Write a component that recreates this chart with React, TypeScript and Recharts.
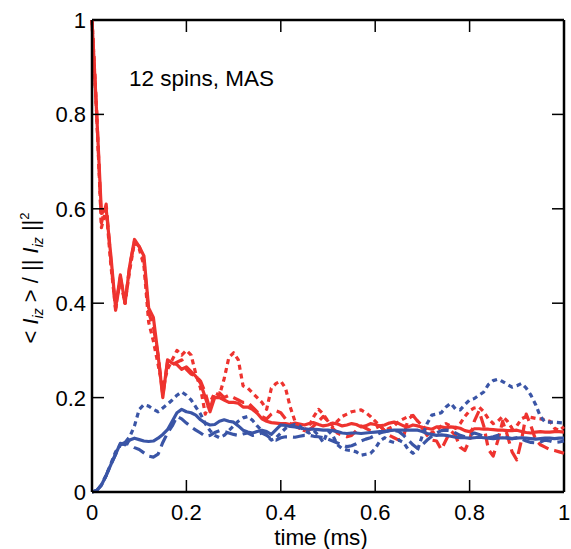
import { LineChart, Line, XAxis, YAxis, ReferenceLine } from "recharts"

// sampling grid: 0 .. 1 ms in 0.01 ms steps
const TIME = Array.from({ length: 101 }, (_, i) => i / 100)

const X_TICKS = [0, 0.2, 0.4, 0.6, 0.8, 1]
const Y_TICKS = [0, 0.2, 0.4, 0.6, 0.8, 1]

// red: solid / dashed / dotted
const RED_SOLID = [
  1.0, 0.8, 0.59, 0.6, 0.5, 0.39, 0.46, 0.4, 0.48, 0.535,
  0.52, 0.5, 0.39, 0.37, 0.29, 0.2, 0.28, 0.273, 0.27, 0.26,
  0.265, 0.255, 0.245, 0.23, 0.2, 0.17, 0.2, 0.2, 0.195, 0.19,
  0.19, 0.188, 0.18, 0.18, 0.175, 0.167, 0.155, 0.15, 0.147, 0.146,
  0.145, 0.145, 0.143, 0.146, 0.144, 0.142, 0.145, 0.147, 0.143, 0.14,
  0.142, 0.146, 0.144, 0.14, 0.142, 0.145, 0.143, 0.138, 0.14, 0.145,
  0.143, 0.14, 0.142, 0.146, 0.148, 0.145, 0.14, 0.138, 0.142, 0.14,
  0.137, 0.135, 0.133, 0.138, 0.138, 0.136, 0.138, 0.137, 0.135, 0.13,
  0.128, 0.134, 0.134, 0.133, 0.133, 0.132, 0.131, 0.131, 0.13, 0.13,
  0.131, 0.128, 0.126, 0.125, 0.127, 0.128, 0.127, 0.127, 0.128, 0.128,
  0.127,
]
const RED_DASHED = [
  1.0, 0.8, 0.57, 0.61, 0.49, 0.385, 0.455, 0.4, 0.48, 0.53,
  0.52, 0.49, 0.38, 0.35, 0.29, 0.205, 0.275, 0.27, 0.275, 0.28,
  0.26, 0.25, 0.245, 0.235, 0.21, 0.175, 0.21, 0.21, 0.2, 0.205,
  0.2, 0.195, 0.19, 0.19, 0.18, 0.17, 0.16, 0.155, 0.165, 0.172,
  0.168, 0.155, 0.145, 0.14, 0.135, 0.132, 0.131, 0.14, 0.15, 0.16,
  0.15, 0.135, 0.125, 0.12, 0.117, 0.12, 0.13, 0.14, 0.135, 0.13,
  0.135, 0.14, 0.13, 0.12, 0.115, 0.11, 0.117, 0.155, 0.162, 0.15,
  0.135, 0.12, 0.11, 0.108, 0.09, 0.11, 0.13, 0.12, 0.095, 0.088,
  0.11, 0.15, 0.172, 0.14, 0.09, 0.076, 0.11, 0.15, 0.12, 0.085,
  0.068, 0.11, 0.165, 0.14, 0.11, 0.1, 0.095, 0.09, 0.088, 0.085,
  0.082,
]
const RED_DOTTED = [
  1.0, 0.8, 0.56, 0.6, 0.48, 0.39, 0.45, 0.4, 0.47, 0.53,
  0.515, 0.48, 0.36, 0.32, 0.27, 0.22, 0.26, 0.28, 0.3, 0.29,
  0.3, 0.29, 0.25, 0.22, 0.165, 0.19, 0.21, 0.205, 0.24, 0.285,
  0.295, 0.28, 0.225, 0.22, 0.21, 0.2, 0.19, 0.175, 0.22, 0.23,
  0.235, 0.22, 0.18, 0.15, 0.135, 0.13, 0.14, 0.16, 0.175, 0.165,
  0.15, 0.14, 0.15, 0.16, 0.165, 0.17, 0.172, 0.174, 0.168, 0.16,
  0.15, 0.14, 0.13, 0.135, 0.14, 0.15, 0.155, 0.16, 0.162, 0.15,
  0.14, 0.13, 0.125, 0.13, 0.14, 0.145, 0.14, 0.135, 0.145, 0.16,
  0.172, 0.178, 0.18, 0.17, 0.155, 0.145, 0.15, 0.16, 0.15, 0.135,
  0.14, 0.155, 0.16, 0.158, 0.156, 0.155, 0.153, 0.15, 0.135, 0.13,
  0.138,
]

// blue: solid / dashed / dotted
const BLUE_SOLID = [
  0, 0.003, 0.015, 0.035, 0.058, 0.08, 0.103, 0.1, 0.11, 0.114,
  0.111, 0.108, 0.107, 0.108, 0.114, 0.122, 0.132, 0.15, 0.168, 0.175,
  0.17, 0.168, 0.163, 0.153, 0.146, 0.142, 0.143, 0.15, 0.153, 0.15,
  0.148, 0.14, 0.131, 0.127, 0.125, 0.128, 0.131, 0.128, 0.122, 0.132,
  0.142, 0.141, 0.139, 0.138, 0.136, 0.134, 0.133, 0.133, 0.132, 0.131,
  0.131, 0.13, 0.128, 0.125, 0.124, 0.125, 0.125, 0.124, 0.125, 0.126,
  0.127, 0.128, 0.128, 0.13, 0.131, 0.131, 0.131, 0.131, 0.131, 0.131,
  0.128, 0.124, 0.122, 0.12, 0.121, 0.12, 0.118, 0.116, 0.115, 0.115,
  0.114, 0.115, 0.116, 0.115, 0.114, 0.113, 0.114, 0.115, 0.114, 0.113,
  0.114, 0.115, 0.114, 0.113, 0.112, 0.113, 0.114, 0.114, 0.113, 0.114,
  0.114,
]
const BLUE_DASHED = [
  0, 0.003, 0.015, 0.035, 0.058, 0.08, 0.1, 0.105, 0.1, 0.094,
  0.09, 0.083, 0.076, 0.074, 0.08, 0.105, 0.125, 0.14, 0.16, 0.155,
  0.146, 0.138, 0.131, 0.125, 0.118, 0.12, 0.126, 0.13, 0.128, 0.125,
  0.122, 0.12, 0.123, 0.125, 0.12, 0.122, 0.125, 0.12, 0.112, 0.11,
  0.115, 0.117, 0.117, 0.116, 0.118, 0.12, 0.12, 0.118, 0.117, 0.115,
  0.112, 0.108, 0.104, 0.1, 0.096, 0.098, 0.102, 0.108, 0.112, 0.115,
  0.12, 0.125, 0.128, 0.13, 0.131, 0.128, 0.12, 0.11, 0.1, 0.092,
  0.1, 0.11, 0.118, 0.125, 0.13, 0.131, 0.13, 0.125, 0.12, 0.117,
  0.12, 0.125, 0.122, 0.118, 0.115, 0.117, 0.12, 0.118, 0.115, 0.113,
  0.115, 0.112, 0.108, 0.105, 0.104, 0.106, 0.11, 0.108, 0.105, 0.106,
  0.108,
]
const BLUE_DOTTED = [
  0, 0.003, 0.015, 0.035, 0.06, 0.085, 0.1, 0.105, 0.117, 0.14,
  0.175, 0.185, 0.182, 0.175, 0.17, 0.178, 0.186, 0.195, 0.205, 0.212,
  0.205, 0.195, 0.18, 0.165, 0.145, 0.13, 0.12, 0.115, 0.12, 0.13,
  0.14, 0.15, 0.157, 0.16, 0.152, 0.14, 0.13, 0.12, 0.11, 0.115,
  0.125, 0.135, 0.14, 0.143, 0.14, 0.13, 0.125, 0.13, 0.12, 0.105,
  0.13, 0.12, 0.1, 0.092, 0.089, 0.088, 0.085, 0.078, 0.08, 0.082,
  0.092, 0.108, 0.115, 0.108, 0.105, 0.11, 0.105, 0.09, 0.082, 0.09,
  0.12, 0.145, 0.163, 0.165, 0.168, 0.18, 0.188, 0.176, 0.174, 0.185,
  0.195, 0.198, 0.205, 0.212, 0.228, 0.236, 0.239, 0.234, 0.228, 0.222,
  0.225, 0.23, 0.22, 0.205, 0.185, 0.16, 0.148, 0.148, 0.148, 0.147,
  0.146,
]

const RED = "#ee332f"
const BLUE = "#3a55a6"
const FONT = "'Liberation Sans', Arial, sans-serif"

// layout
const W = 571
const H = 549
const PLOT_LEFT = 92
const PLOT_TOP = 20
const PLOT_RIGHT = 564
const PLOT_BOTTOM = 492
const TICK_LEN = 12

const fmt = (v: number) => (v === 0 || v === 1 ? String(v) : v.toFixed(1))

function YTick({ x, y, payload }: any) {
  return (
    <g>
      <line x1={PLOT_LEFT} x2={PLOT_LEFT + TICK_LEN} y1={y} y2={y} stroke="#000" strokeWidth={1.5} />
      <line x1={PLOT_RIGHT - TICK_LEN} x2={PLOT_RIGHT} y1={y} y2={y} stroke="#000" strokeWidth={1.5} />
      <text x={x} y={y + 8} textAnchor="end" fontSize={22} fontFamily={FONT} fill="#000">
        {fmt(payload.value)}
      </text>
    </g>
  )
}

function XTick({ x, payload }: any) {
  return (
    <g>
      <line x1={x} x2={x} y1={PLOT_BOTTOM - TICK_LEN} y2={PLOT_BOTTOM} stroke="#000" strokeWidth={1.5} />
      <line x1={x} x2={x} y1={PLOT_TOP} y2={PLOT_TOP + TICK_LEN} stroke="#000" strokeWidth={1.5} />
      <text x={x} y={PLOT_BOTTOM + 28} textAnchor="middle" fontSize={22} fontFamily={FONT} fill="#000">
        {fmt(payload.value)}
      </text>
    </g>
  )
}

export default function App() {
  const data = TIME.map((t, i) => ({
    t,
    rs: RED_SOLID[i],
    rd: RED_DASHED[i],
    rdot: RED_DOTTED[i],
    bs: BLUE_SOLID[i],
    bd: BLUE_DASHED[i],
    bdot: BLUE_DOTTED[i],
  }))

  const lineProps = {
    type: "linear" as const,
    dot: false,
    strokeWidth: 3.2,
    strokeLinejoin: "round" as const,
    isAnimationActive: false,
  }

  return (
    <div style={{ position: "absolute", left: 0, top: 0, width: W, height: H, background: "#fff" }}>
      <LineChart
        width={W}
        height={H}
        data={data}
        margin={{ top: PLOT_TOP, right: W - PLOT_RIGHT, left: 0, bottom: 0 }}
      >
        <XAxis
          dataKey="t"
          type="number"
          domain={[0, 1]}
          ticks={X_TICKS}
          height={H - PLOT_BOTTOM}
          tickLine={false}
          tickSize={0}
          axisLine={{ stroke: "#000", strokeWidth: 2.5 }}
          tick={<XTick />}
          interval={0}
        />
        <YAxis
          type="number"
          domain={[0, 1]}
          ticks={Y_TICKS}
          width={PLOT_LEFT}
          tickLine={false}
          tickSize={0}
          tickMargin={6}
          axisLine={{ stroke: "#000", strokeWidth: 2.5 }}
          tick={<YTick />}
          interval={0}
        />
        <ReferenceLine y={1} stroke="#000" strokeWidth={2.5} />
        <ReferenceLine x={1} stroke="#000" strokeWidth={2.5} />
        <Line dataKey="rdot" stroke={RED} strokeDasharray="5 4" {...lineProps} />
        <Line dataKey="rd" stroke={RED} strokeDasharray="12 6" {...lineProps} />
        <Line dataKey="rs" stroke={RED} {...lineProps} />
        <Line dataKey="bdot" stroke={BLUE} strokeDasharray="5 4" {...lineProps} />
        <Line dataKey="bd" stroke={BLUE} strokeDasharray="12 6" {...lineProps} />
        <Line dataKey="bs" stroke={BLUE} {...lineProps} />
      </LineChart>
      <svg
        width={W}
        height={H}
        style={{ position: "absolute", left: 0, top: 0, pointerEvents: "none" }}
        fontFamily={FONT}
      >
        <text x={129} y={86} fontSize={22.5} fill="#000">
          12 spins, MAS
        </text>
        <text x={321} y={545} fontSize={22.5} fill="#000" textAnchor="middle">
          time (ms)
        </text>
        <text x={38} y={278} fontSize={22} fill="#000" textAnchor="middle" transform="rotate(-90 38 278)">
          {"< "}
          <tspan fontStyle="italic">I</tspan>
          <tspan fontStyle="italic" fontSize={14} dy={5}>iz</tspan>
          <tspan dy={-5}>{" > / || "}</tspan>
          <tspan fontStyle="italic">I</tspan>
          <tspan fontStyle="italic" fontSize={14} dy={5}>iz</tspan>
          <tspan dy={-5}>{" ||"}</tspan>
          <tspan fontSize={13} dy={-9}>2</tspan>
        </text>
      </svg>
    </div>
  )
}
